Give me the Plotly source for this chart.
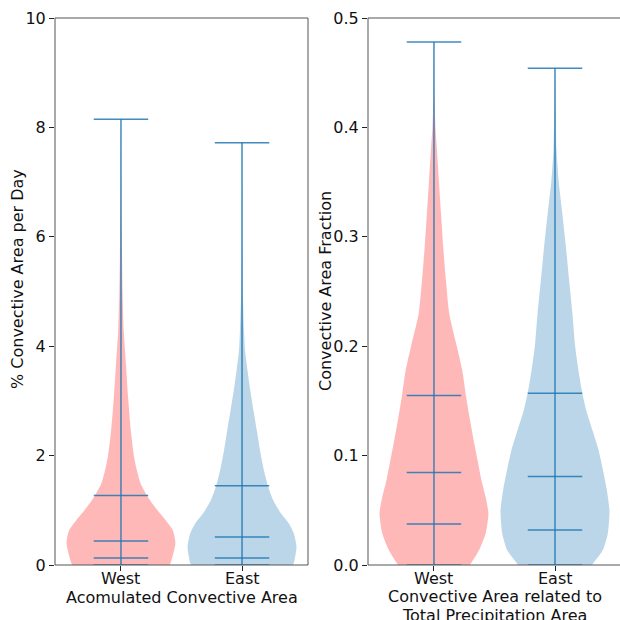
import plotly.graph_objects as go

# ---- data ----
categories = ["West", "East"]
positions = [1, 2]

# Left panel: Acomulated Convective Area (% per day)
acc_west_levels = [0, 0.03, 0.40, 0.64, 0.82, 1.00, 1.25, 1.49, 1.74, 1.98, 2.47, 3.08, 3.69, 4.30, 5.0, 6.0, 7.0, 8.15]
acc_west_density = [0.89, 0.91, 1.0, 0.95, 0.82, 0.67, 0.49, 0.36, 0.29, 0.24, 0.18, 0.13, 0.09, 0.05, 0.03, 0.015, 0.005, 0]
acc_east_levels = [0, 0.03, 0.33, 0.58, 0.76, 0.95, 1.19, 1.43, 1.74, 2.10, 2.47, 2.83, 3.20, 3.56, 3.93, 4.30, 5.0, 6.0, 7.0, 7.72]
acc_east_density = [0.93, 0.95, 1.0, 0.95, 0.86, 0.71, 0.57, 0.48, 0.40, 0.33, 0.27, 0.21, 0.15, 0.10, 0.055, 0.037, 0.015, 0.005, 0.002, 0]
acc_west_stats = [0.0, 0.13, 0.44, 1.27, 8.15]   # min, q1, median, q3, max
acc_east_stats = [0.0, 0.13, 0.51, 1.45, 7.72]

# Right panel: Convective area fraction
frac_west_levels = [0, 0.0015, 0.0137, 0.029, 0.047, 0.062, 0.078, 0.096, 0.111, 0.133, 0.154, 0.178, 0.2, 0.23, 0.26, 0.291, 0.321, 0.352, 0.38, 0.40, 0.43, 0.478]
frac_west_density = [0.66, 0.68, 0.83, 0.95, 1.0, 0.95, 0.87, 0.80, 0.74, 0.66, 0.59, 0.52, 0.42, 0.28, 0.22, 0.17, 0.13, 0.09, 0.055, 0.028, 0.009, 0]
frac_east_levels = [0, 0.0015, 0.0137, 0.029, 0.050, 0.069, 0.087, 0.105, 0.123, 0.142, 0.16, 0.178, 0.2, 0.23, 0.26, 0.291, 0.321, 0.352, 0.38, 0.42, 0.454]
frac_east_density = [0.68, 0.70, 0.88, 0.97, 1.0, 0.95, 0.88, 0.80, 0.69, 0.57, 0.49, 0.43, 0.37, 0.32, 0.26, 0.20, 0.135, 0.065, 0.028, 0.009, 0]
frac_west_stats = [0.0, 0.0375, 0.0845, 0.155, 0.478]
frac_east_stats = [0.0, 0.032, 0.081, 0.157, 0.454]

left_ticks = [0, 2, 4, 6, 8, 10]
right_ticks = [0.0, 0.1, 0.2, 0.3, 0.4, 0.5]

# ---- styling ----
VIOLIN_WIDTH = 0.9
FILL_RED = "rgba(255,0,0,0.28)"
FILL_BLUE = "rgba(31,119,180,0.3)"
LINE_COLOR = "rgba(31,119,180,0.85)"
FONT = "DejaVu Sans"
FS = 16

fig = go.Figure()


def add_violin(pos, levels, density, stats, fill, xa, ya):
    half = VIOLIN_WIDTH / 2
    xs = [pos + d * half for d in density] + [pos - d * half for d in reversed(density)]
    ys = list(levels) + list(reversed(levels))
    fig.add_trace(go.Scatter(x=xs, y=ys, fill="toself", fillcolor=fill, mode="lines",
                             line=dict(width=0, shape="spline", smoothing=0.6, color=fill),
                             xaxis=xa, yaxis=ya, hoverinfo="skip", showlegend=False))
    lw = VIOLIN_WIDTH * 0.25
    lx, ly = [], []
    for s in stats:
        lx += [pos - lw, pos + lw, None]
        ly += [s, s, None]
    lx += [pos, pos, None]
    ly += [stats[0], stats[-1], None]
    fig.add_trace(go.Scatter(x=lx, y=ly, mode="lines", line=dict(color=LINE_COLOR, width=1.5),
                             xaxis=xa, yaxis=ya, hoverinfo="skip", showlegend=False))


add_violin(positions[0], acc_west_levels, acc_west_density, acc_west_stats, FILL_RED, "x", "y")
add_violin(positions[1], acc_east_levels, acc_east_density, acc_east_stats, FILL_BLUE, "x", "y")
add_violin(positions[0], frac_west_levels, frac_west_density, frac_west_stats, FILL_RED, "x2", "y2")
add_violin(positions[1], frac_east_levels, frac_east_density, frac_east_stats, FILL_BLUE, "x2", "y2")

W = 620.0
ydom = [(620 - 565) / W, (620 - 18) / W]
x1dom = [55 / W, 308 / W]
x2dom = [368 / W, 1.0]

axis_common = dict(showgrid=False, zeroline=False, ticks="outside", ticklen=5, tickwidth=1,
                   tickcolor="#222", tickfont=dict(family=FONT, size=FS, color="#111"),
                   showline=False, automargin=False)

fig.update_layout(
    width=620, height=620,
    margin=dict(l=0, r=0, t=0, b=0, pad=0),
    paper_bgcolor="white", plot_bgcolor="white",
    font=dict(family=FONT, size=FS, color="#111"),
    xaxis=dict(domain=x1dom, range=[0.455, 2.545], tickvals=positions, ticktext=categories,
               showticklabels=False, anchor="y", **axis_common),
    yaxis=dict(domain=ydom, range=[0, 10], tickvals=left_ticks,
               ticktext=[str(t) for t in left_ticks], anchor="x", **axis_common),
    xaxis2=dict(domain=x2dom, range=[0.455, 2.537], tickvals=positions, ticktext=categories,
                showticklabels=False, anchor="y2", **axis_common),
    yaxis2=dict(domain=ydom, range=[0, 0.5], tickvals=right_ticks,
                ticktext=[f"{t:.1f}" for t in right_ticks], anchor="x2", **axis_common),
)

# spines
spine = dict(color="#555", width=1)
shapes = [
    dict(type="rect", xref="paper", yref="paper", x0=x1dom[0], x1=x1dom[1],
         y0=ydom[0], y1=ydom[1], line=spine, layer="above"),
    dict(type="line", xref="paper", yref="paper", x0=x2dom[0], x1=1.0,
         y0=ydom[0], y1=ydom[0], line=spine, layer="above"),
    dict(type="line", xref="paper", yref="paper", x0=x2dom[0], x1=1.0,
         y0=ydom[1], y1=ydom[1], line=spine, layer="above"),
    dict(type="line", xref="paper", yref="paper", x0=x2dom[0], x1=x2dom[0],
         y0=ydom[0], y1=ydom[1], line=spine, layer="above"),
]
fig.update_layout(shapes=shapes)

# category tick labels and axis titles as annotations
tfont = dict(family=FONT, size=FS, color="#111")
ann = []
for xref in ("x", "x2"):
    for p, c in zip(positions, categories):
        ann.append(dict(text=c, x=p, y=1 - 578 / W, xref=xref, yref="paper", showarrow=False,
                        xanchor="center", yanchor="middle", font=tfont))
ann += [
    dict(text="Acomulated Convective Area", x=(x1dom[0] + x1dom[1]) / 2, y=1 - 597 / W,
         xref="paper", yref="paper", showarrow=False, xanchor="center", yanchor="middle", font=tfont),
    dict(text="Convective Area related to", x=494.5 / W, y=1 - 596 / W,
         xref="paper", yref="paper", showarrow=False, xanchor="center", yanchor="middle", font=tfont),
    dict(text="Total Precipitation Area", x=494.5 / W, y=1 - 615 / W,
         xref="paper", yref="paper", showarrow=False, xanchor="center", yanchor="middle", font=tfont),
    dict(text="% Convective Area per Day", x=17 / W, y=1 - 279 / W, textangle=-90,
         xref="paper", yref="paper", showarrow=False, xanchor="center", yanchor="middle", font=tfont),
    dict(text="Convective Area Fraction", x=325 / W, y=1 - 291 / W, textangle=-90,
         xref="paper", yref="paper", showarrow=False, xanchor="center", yanchor="middle", font=tfont),
]
fig.update_layout(annotations=ann)

fig.write_html("out.html")
